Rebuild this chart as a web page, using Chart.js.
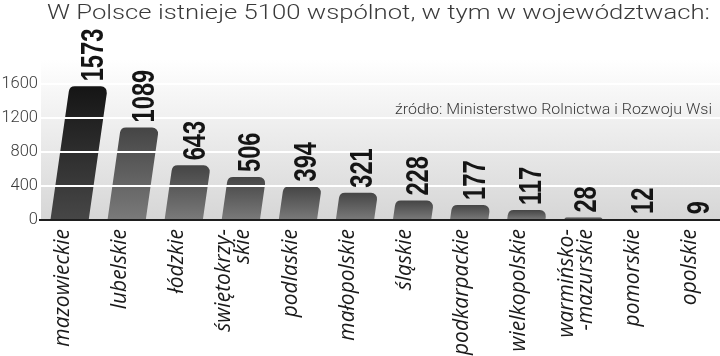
<!DOCTYPE html>
<html><head><meta charset="utf-8">
<script src="https://cdn.jsdelivr.net/npm/chart.js@4"></script>
<style>html,body{margin:0;padding:0;overflow:hidden;background:#fff}#wrap{width:726px;height:356px;position:relative}</style>
</head><body><div id="wrap"><canvas id="c"></canvas></div>
<script>
const titleText = 'W Polsce istnieje 5100 wspólnot, w tym w województwach:';
const sourceText = 'źródło: Ministerstwo Rolnictwa i Rozwoju Wsi';
const categories = [['mazowieckie'],['lubelskie'],['łódzkie'],['świętokrzy-','skie'],['podlaskie'],['małopolskie'],['śląskie'],['podkarpackie'],['wielkopolskie'],['warmińsko-','-mazurskie'],['pomorskie'],['opolskie']];
const values = [1573,1089,643,506,394,321,228,177,117,28,12,9];
const yTicks = [0,400,800,1200,1600];

const SLOPE = 0.143;
const RADIUS = 6;
const VAL_SCALE = 0.74;

function fitText(ctx, text, x, y, targetW) {
  const w = ctx.measureText(text).width;
  ctx.save();
  ctx.translate(x, y);
  ctx.scale(targetW / w, 1);
  ctx.fillText(text, 0, 0);
  ctx.restore();
}

const customDraw = {
  id: 'customDraw',
  beforeDraw(chart) {
    const {ctx, chartArea} = chart;
    const g = ctx.createLinearGradient(0, 60, 0, chartArea.bottom);
    g.addColorStop(0, '#ffffff');
    g.addColorStop(1, '#d6d6d6');
    ctx.save();
    ctx.fillStyle = g;
    ctx.fillRect(chartArea.left, 60, chartArea.right - chartArea.left, chartArea.bottom - 60);
    ctx.restore();
  },
  afterDatasetsDraw(chart) {
    const {ctx, chartArea} = chart;
    const meta = chart.getDatasetMeta(0);
    const yScale = chart.scales.y;
    ctx.save();
    // bars
    meta.data.forEach((bar, i) => {
      const {x, y, base, width} = bar.getProps(['x','y','base','width'], true);
      const h = base - y;
      const s = SLOPE * h;
      const l = x - width / 2, r = x + width / 2;
      const rad = Math.min(RADIUS, h);
      const g = ctx.createLinearGradient(0, y, 0, base);
      if (i === 0) { g.addColorStop(0, '#151515'); g.addColorStop(1, '#474747'); }
      else { g.addColorStop(0, '#454545'); g.addColorStop(1, '#7a7a7a'); }
      ctx.fillStyle = g;
      ctx.beginPath();
      ctx.moveTo(l, base);
      ctx.lineTo(r, base);
      ctx.arcTo(r + s, y, l + s, y, rad);
      ctx.arcTo(l + s, y, l, base, rad);
      ctx.closePath();
      ctx.fill();
    });
    // white grid lines over bars
    ctx.strokeStyle = '#ffffff';
    ctx.lineWidth = 2;
    yTicks.forEach(v => {
      if (v === 0) return;
      const py = Math.round(yScale.getPixelForValue(v));
      ctx.beginPath();
      ctx.moveTo(chartArea.left, py);
      ctx.lineTo(chartArea.right, py);
      ctx.stroke();
    });
    // zero line
    const zy = yScale.getPixelForValue(0);
    ctx.strokeStyle = '#1e1e1e';
    ctx.lineWidth = 2;
    ctx.beginPath();
    ctx.moveTo(chartArea.left - 2, zy);
    ctx.lineTo(chartArea.right, zy);
    ctx.stroke();
    // value labels
    ctx.fillStyle = '#151515';
    ctx.font = 'bold 32px "Liberation Sans"';
    ctx.textBaseline = 'middle';
    ctx.textAlign = 'left';
    meta.data.forEach((bar, i) => {
      const {x, y, base} = bar.getProps(['x','y','base'], true);
      const txt = String(values[i]);
      const len = ctx.measureText(txt).width * VAL_SCALE;
      const startY = y - 5;
      const mid = base - (startY - len / 2);
      const px = x + SLOPE * mid;
      ctx.save();
      ctx.translate(px, startY);
      ctx.rotate(-Math.PI / 2);
      ctx.scale(VAL_SCALE, 1);
      ctx.fillText(txt, 0, 1);
      ctx.restore();
    });
    // category labels
    ctx.fillStyle = '#1a1a1a';
    ctx.font = 'italic 21px "Open Sans"';
    ctx.textAlign = 'right';
    ctx.textBaseline = 'middle';
    const xScale = chart.scales.x;
    categories.forEach((lines, i) => {
      const cx = xScale.getPixelForValue(i) - 7;
      const lh = 19;
      ctx.save();
      ctx.translate(cx, zy + 9);
      ctx.rotate(-Math.PI / 2);
      lines.forEach((t, j) => {
        ctx.fillText(t, 0, (j - (lines.length - 1) / 2) * lh);
      });
      ctx.restore();
    });
    // title
    ctx.fillStyle = '#3a3a3a';
    ctx.font = '300 21px Roboto';
    ctx.textAlign = 'left';
    ctx.textBaseline = 'alphabetic';
    fitText(ctx, titleText, 47, 19, 663);
    // source
    ctx.fillStyle = '#3a3a3a';
    ctx.font = '300 15px Roboto';
    fitText(ctx, sourceText, 395, 114, 317);
    ctx.restore();
  }
};

new Chart(document.getElementById('c'), {
  type: 'bar',
  data: {
    labels: categories,
    datasets: [{
      data: values,
      backgroundColor: 'rgba(0,0,0,0)',
      borderWidth: 0,
      barPercentage: 0.67,
      categoryPercentage: 1
    }]
  },
  options: {
    responsive: true,
    maintainAspectRatio: false,
    animation: false,
    layout: { padding: { top: 84, bottom: 136, left: 0, right: 0 } },
    plugins: { legend: { display: false }, tooltip: { enabled: false } },
    scales: {
      x: { display: false },
      y: {
        min: 0, max: 1600,
        afterBuildTicks: s => { s.ticks = yTicks.map(v => ({ value: v })); },
        afterFit: s => { s.width = 41; },
        grid: { display: false, drawTicks: false },
        border: { display: false },
        ticks: { callback: v => String(v), font: { family: 'Roboto', size: 16.5, weight: '300' }, color: '#3a3a3a', padding: 3 }
      }
    }
  },
  plugins: [customDraw]
});
</script>
</body></html>
